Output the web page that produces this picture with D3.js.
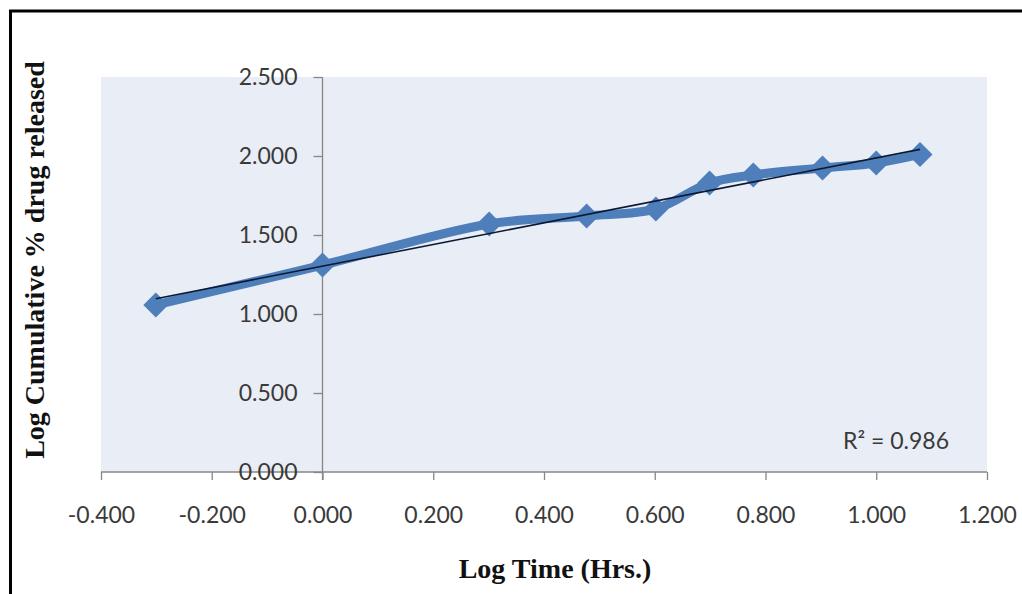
<!DOCTYPE html>
<html>
<head>
<meta charset="utf-8">
<script src="https://cdn.jsdelivr.net/npm/d3@7"></script>
<style>
  html, body { margin: 0; padding: 0; background: #fff; }
  svg { display: block; }
</style>
</head>
<body>
<svg id="chart" width="1022" height="594"></svg>
<script>
// Log time (hours) against log cumulative % drug released
const logTime = [-0.301, 0.000, 0.301, 0.477, 0.602, 0.699, 0.778, 0.903, 1.000, 1.079];
const logRelease = [1.057, 1.310, 1.570, 1.620, 1.665, 1.829, 1.880, 1.924, 1.956, 2.010];
const xTicks = [-0.4, -0.2, 0.0, 0.2, 0.4, 0.6, 0.8, 1.0, 1.2];
const yTicks = [0.0, 0.5, 1.0, 1.5, 2.0, 2.5];
const rSquaredLabel = "R² = 0.986";
const xTitle = "Log Time (Hrs.)";
const yTitle = "Log Cumulative % drug released";

const svg = d3.select("#chart");
const plot = { left: 101, right: 987, top: 77, bottom: 472 };

const x = d3.scaleLinear().domain([-0.4, 1.2]).range([plot.left, plot.right]);
const y = d3.scaleLinear().domain([0, 2.5]).range([plot.bottom, plot.top]);

// three-decimal labels with a plain hyphen for negatives
const fmt = d3.formatLocale({ decimal: ".", thousands: ",", grouping: [3], currency: ["", ""], minus: "-" }).format(".3f");

// outer frame (top and left edges)
svg.append("line").attr("x1", 9).attr("x2", 1022).attr("y1", 11).attr("y2", 11)
  .attr("stroke", "#000").attr("stroke-width", 3);
svg.append("line").attr("x1", 10.5).attr("x2", 10.5).attr("y1", 10).attr("y2", 594)
  .attr("stroke", "#000").attr("stroke-width", 3);

// plot background
svg.append("rect")
  .attr("x", plot.left).attr("y", plot.top)
  .attr("width", plot.right - plot.left).attr("height", plot.bottom - plot.top)
  .attr("fill", "#e9edf5");

const axisColor = "#878787";
const tickFont = "Lato, 'Open Sans', sans-serif";
const tickSize = "23px";

// x axis along y = 0
const xAxis = d3.axisBottom(x).tickValues(xTicks).tickSize(8).tickPadding(27).tickFormat(fmt);
const gx = svg.append("g").attr("transform", `translate(0,${y(0)})`).call(xAxis);
gx.select(".domain").attr("stroke", axisColor).attr("stroke-width", 1.3).attr("d", `M${plot.left},0H${plot.right}`);
gx.selectAll(".tick line").attr("stroke", axisColor).attr("stroke-width", 1.3);
gx.selectAll(".tick text").attr("fill", "#3a3a3a").style("font-family", tickFont).style("font-size", tickSize);

// y axis along x = 0
const yAxis = d3.axisLeft(y).tickValues(yTicks).tickSize(9).tickPadding(16).tickFormat(fmt);
const gy = svg.append("g").attr("transform", `translate(${x(0)},0)`).call(yAxis);
gy.select(".domain").attr("stroke", axisColor).attr("stroke-width", 1.3).attr("d", `M0,${plot.top}V${plot.bottom + 8}`);
gy.selectAll(".tick line").attr("stroke", axisColor).attr("stroke-width", 1.3);
gy.selectAll(".tick text").attr("fill", "#3a3a3a").style("font-family", tickFont).style("font-size", tickSize);

const points = logTime.map((t, i) => ({ t, r: logRelease[i] }));

// smoothed data line
const line = d3.line().x(d => x(d.t)).y(d => y(d.r)).curve(d3.curveCatmullRom.alpha(0.5));
svg.append("path").datum(points)
  .attr("d", line)
  .attr("fill", "none").attr("stroke", "#4f7fbb").attr("stroke-width", 9)
  .attr("stroke-linejoin", "round");

// diamond markers
const diamond = d3.symbol().type(d3.symbolDiamond2).size(400);
svg.append("g").selectAll("path").data(points).join("path")
  .attr("transform", d => `translate(${x(d.t)},${y(d.r)})`)
  .attr("d", diamond)
  .attr("fill", "#4f7fbb");

// least-squares trend line
const mx = d3.mean(logTime), my = d3.mean(logRelease);
const slope = d3.sum(points, d => (d.t - mx) * (d.r - my)) / d3.sum(points, d => (d.t - mx) ** 2);
const intercept = my - slope * mx;
const tExt = d3.extent(logTime);
svg.append("line")
  .attr("x1", x(tExt[0])).attr("y1", y(intercept + slope * tExt[0]))
  .attr("x2", x(tExt[1])).attr("y2", y(intercept + slope * tExt[1]))
  .attr("stroke", "#0b1a33").attr("stroke-width", 1.6);

// R² annotation
svg.append("text").attr("x", 843).attr("y", 449)
  .style("font-family", tickFont).style("font-size", tickSize).attr("fill", "#3a3a3a")
  .text(rSquaredLabel);

// axis titles
const titleFont = "'Liberation Serif', 'Times New Roman', serif";
svg.append("text").attr("x", 555).attr("y", 578).attr("text-anchor", "middle")
  .style("font-family", titleFont)
  .style("font-weight", "bold").style("font-size", "28px").attr("fill", "#111")
  .text(xTitle);
svg.append("text").attr("transform", "translate(44,260) rotate(-90)").attr("text-anchor", "middle")
  .style("font-family", titleFont)
  .style("font-weight", "bold").style("font-size", "28px").attr("fill", "#111")
  .text(yTitle);
</script>
</body>
</html>
